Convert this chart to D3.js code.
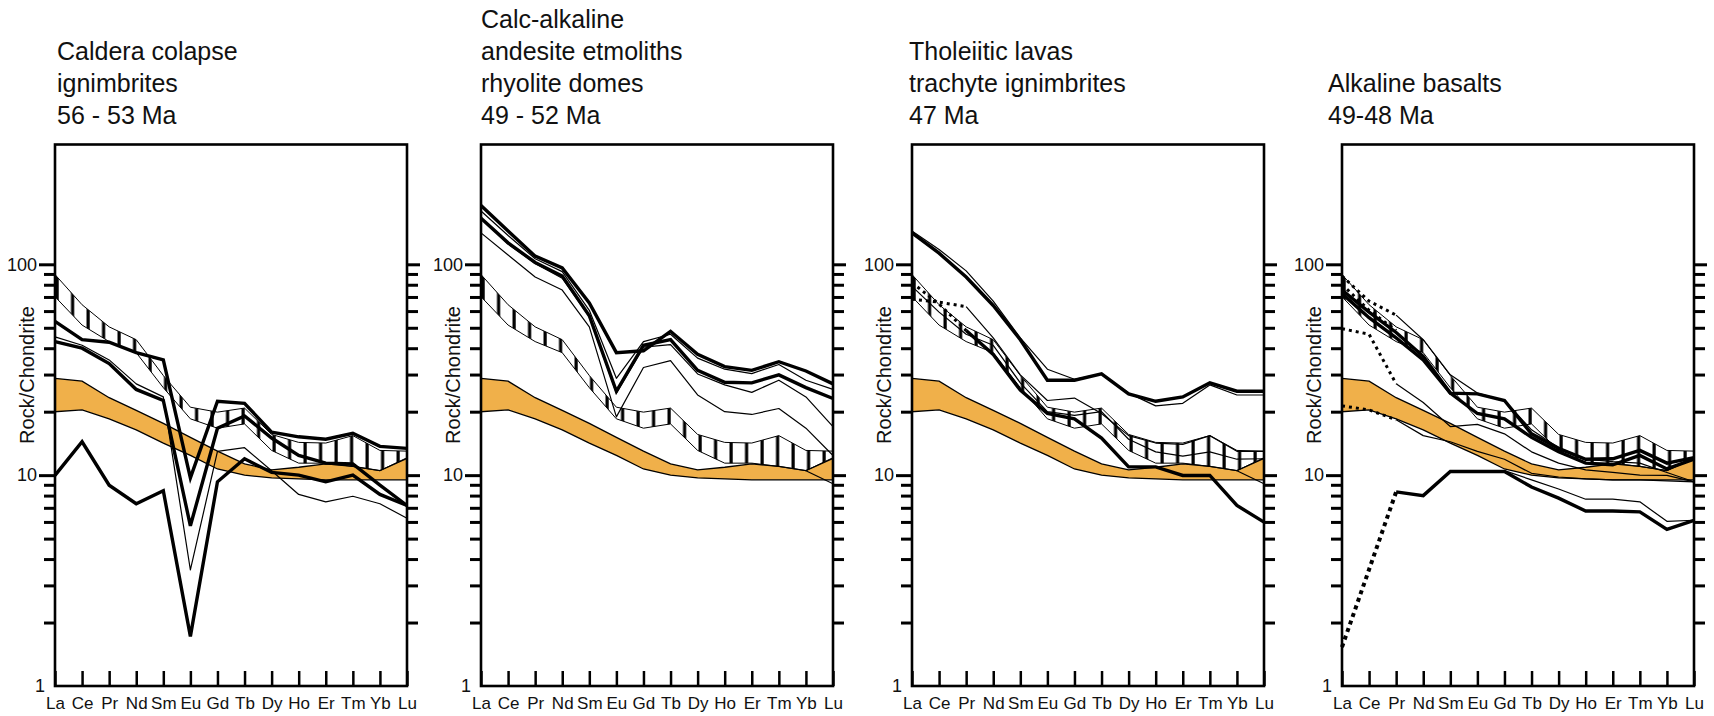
<!DOCTYPE html>
<html>
<head>
<meta charset="utf-8">
<script src="https://cdn.jsdelivr.net/npm/d3@7"></script>
<style>
body { margin: 0; background: #fff; }
svg { display: block; font-family: "Liberation Sans", Arial, Helvetica, sans-serif; }
</style>
</head>
<body>
<svg id="svg0" width="1714" height="716"></svg>
<script>
// REE on the x axis, chondrite normalised values on a log y axis
var ree = ["La", "Ce", "Pr", "Nd", "Sm", "Eu", "Gd", "Tb", "Dy", "Ho", "Er", "Tm", "Yb", "Lu"];
var majorTicks = [10, 100];
var minorTicks = [2, 3, 4, 5, 6, 7, 8, 9, 20, 30, 40, 50, 60, 70, 80, 90];

var titles = [
    ["Caldera colapse", "ignimbrites", "56 - 53 Ma"],
    ["Calc-alkaline", "andesite etmoliths", "rhyolite domes", "49 - 52 Ma"],
    ["Tholeiitic lavas", "trachyte ignimbrites", "47 Ma"],
    ["Alkaline basalts", "49-48 Ma"]
];

// orange reference field (same in every panel)
var fieldTop    = [28.8, 27.9, 23.3, 20.3, 17.6, 15.1, 13.0, 11.3, 10.6, 10.9, 11.3, 11.0, 10.5, 12.0];
var fieldBottom = [20.0, 20.4, 18.5, 16.4, 14.2, 12.4, 10.7, 10.0, 9.7, 9.6, 9.5, 9.5, 9.5, 9.5];

// hatched field (same in every panel)
var hatchTop    = [89.4, 64.3, 50.5, 43.9, 29.7, 21.0, 19.9, 20.8, 15.6, 14.3, 14.2, 15.4, 13.1, 13.0];
var hatchBottom = [70.2, 51.5, 43.0, 38.1, 26.0, 18.5, 16.7, 17.5, 13.1, 11.4, 11.4, 11.0, 10.5, 12.1];

// panel 1
var p1Thick = [
    [53.6, 43.9, 42.7, 38.1, 35.2, 9.7, 22.4, 21.9, 16.0, 15.2, 14.8, 15.8, 13.7, 13.4],
    [43.0, 40.0, 33.8, 25.5, 22.6, 5.75, 16.7, 19.1, 15.0, 12.4, 11.4, 11.3, 8.96, 7.18],
    [9.97, 14.4, 8.96, 7.32, 8.43, 1.72, 9.3, 11.96, 10.3, 10.0, 9.3, 10.0, 8.1, 7.18]
];
var p1Thin = [
    [45.3, 41.3, 35.2, 27.1, 23.5, 3.55, 12.97, 13.5, 10.5, 8.1, 7.47, 7.94, 7.32, 6.24]
];

// panel 2
var p2Thick = [
    [190, 143.7, 109.3, 96.1, 65.6, 38.1, 38.9, 48.1, 37.4, 32.7, 31.4, 34.5, 31.2, 27.1],
    [165.5, 126.4, 102, 88.0, 57.0, 25.0, 41.3, 43.9, 31.4, 27.6, 27.4, 29.9, 26.0, 23.1]
];
var p2Thin = [
    [179, 137, 106.3, 92.3, 60.5, 28.8, 43.0, 46.6, 35.9, 31.8, 30.3, 33.5, 28.2, 25.5],
    [140.9, 110.7, 87.0, 75.5, 50.5, 18.9, 32.4, 34.9, 24.0, 20.0, 19.4, 20.7, 16.7, 12.4],
    [165.5, 124.9, 100.9, 85.9, 56.5, 24.5, 40.5, 41.6, 30.2, 26.8, 24.7, 28.2, 23.5, 17.0],
    [null, null, null, null, null, null, null, null, null, null, null, null, 10.5, 9.1]
];

// panel 3
var p3Thick = [
    [140.9, 112.9, 87.0, 63.8, 43.9, 28.2, 28.2, 30.2, 24.3, 22.4, 23.5, 27.4, 25.0, 25.0],
    [null, null, 48.5, 37.4, 25.3, 19.6, 18.5, 15.0, 10.95, 10.95, 9.97, 9.97, 7.18, 5.99]
];
var p3Thin = [
    [143.7, 117.6, 93.1, 66.9, 44.8, 31.8, 28.5, 30.2, 24.5, 21.3, 21.9, 26.8, 24.0, 24.0],
    [null, null, 63.0, 44.8, 29.9, 22.6, 23.2, 19.6, 15.4, 14.2, 14.0, 15.4, 12.97, 12.97],
    [78.6, 59.3, 46.6, 41.3, 27.4, 20.0, 19.2, 20.0, 14.8, 12.9, 12.3, 12.9, 11.9, 11.96],
    [null, null, null, null, null, null, null, null, null, null, null, null, 10.5, 9.1]
];
var p3Dotted = [
    [68.3, 66.1, 63.0],
    [81.8, 64.8, 48.5]
];

// panel 4
var p4Thick = [
    [null, null, 8.33, 8.0, 10.4, 10.4, 10.4, 8.78, 7.78, 6.76, 6.76, 6.70, 5.53, 6.11],
    [75.5, 59.3, 47.5, 36.6, 24.5, 24.3, 22.6, 15.7, 13.4, 11.9, 11.96, 13.1, 11.4, 12.1],
    [72.6, 55.8, 44.8, 35.2, 24.5, 19.6, 18.5, 15.1, 12.9, 11.4, 11.2, 12.4, 10.7, 11.9]
];
var p4Thin = [
    [null, null, null, null, 10.5, 10.5, 10.5, 9.5, 8.6, 7.69, 7.69, 7.47, 6.04, 6.11],
    [null, null, 18.3, 15.4, 14.4, 12.97, 11.9, 10.2, 9.8, 9.6, 9.5, 9.5, 9.4, 9.3],
    [null, null, 27.1, 22.1, 17.0, 17.4, 15.7, 12.9, 11.4, 10.6, 10.3, 10.0, 9.97, 9.3],
    [null, null, 57.4, 43.9, 29.9, 24.5, 22.6, 16.4, 13.5, 11.9, 11.6, 11.4, 10.3, 9.3]
];
var p4Dotted = [
    [21.3, 20.4, 18.3],
    [49.5, 46.6, 27.1],
    [88.0, 66.9, 57.4],
    [80.2, 60.5, 48.5]
];
var p4DottedThick = [
    [1.53, null, 8.33]
];

var panels = [
    { left: 55,   titleX: 57,   thick: p1Thick, thin: p1Thin, dotted: [],       dottedThick: [] },
    { left: 481,  titleX: 481,  thick: p2Thick, thin: p2Thin, dotted: [],       dottedThick: [] },
    { left: 912,  titleX: 909,  thick: p3Thick, thin: p3Thin, dotted: p3Dotted, dottedThick: [] },
    { left: 1342, titleX: 1328, thick: p4Thick, thin: p4Thin, dotted: p4Dotted, dottedThick: p4DottedThick }
];

var boxTop = 144.5;
var boxW = 352;
var boxH = 541.5;

var svg = d3.select('#svg0');

var x = d3.scalePoint().domain(ree).range([0, boxW]);
var y = d3.scaleLog().domain([1, 370]).range([boxH, 0]);

var defs = svg.append('defs');
var hatch = defs.append('pattern')
    .attr('id', 'hatch')
    .attr('patternUnits', 'userSpaceOnUse')
    .attr('width', 15.5)
    .attr('height', 10);
hatch.append('rect')
    .attr('x', 0.5).attr('y', 0)
    .attr('width', 3.2).attr('height', 10)
    .attr('fill', '#000');

function pts(arr) {
    return arr.map(function (v, i) { return { el: ree[i], v: v }; })
        .filter(function (d) { return d.v != null; });
}

function band(top, bottom) {
    return top.map(function (v, i) { return { el: ree[i], hi: v, lo: bottom[i] }; });
}

var line = d3.line()
    .x(function (d) { return x(d.el); })
    .y(function (d) { return y(d.v); });

var area = d3.area()
    .x(function (d) { return x(d.el); })
    .y0(function (d) { return y(d.lo); })
    .y1(function (d) { return y(d.hi); });

panels.forEach(function (p, k) {

    var g = svg.append('g')
        .attr('transform', 'translate(' + p.left + ',' + boxTop + ')');

    // title
    var lines = titles[k];
    svg.append('g').selectAll('text')
        .data(lines)
        .enter()
        .append('text')
        .attr('x', p.titleX)
        .attr('y', function (d, i) { return 124 - (lines.length - 1 - i) * 32; })
        .attr('font-size', 25)
        .attr('fill', '#111')
        .text(function (d) { return d; });

    // orange field
    g.append('path')
        .attr('d', area(band(fieldTop, fieldBottom)))
        .attr('fill', '#f0b04a')
        .attr('stroke', '#000')
        .attr('stroke-width', 1.3);

    // hatched field
    g.append('path')
        .attr('d', area(band(hatchTop, hatchBottom)))
        .attr('fill', 'url(#hatch)')
        .attr('stroke', 'none');
    [hatchTop, hatchBottom].forEach(function (edge) {
        g.append('path')
            .attr('d', line(pts(edge)))
            .attr('fill', 'none')
            .attr('stroke', '#000')
            .attr('stroke-width', 1);
    });

    g.selectAll('path.thin')
        .data(p.thin)
        .enter()
        .append('path')
        .attr('class', 'thin')
        .attr('d', function (d) { return line(pts(d)); })
        .attr('fill', 'none')
        .attr('stroke', '#000')
        .attr('stroke-width', 1.2)
        .attr('stroke-linejoin', 'round');

    g.selectAll('path.dotted')
        .data(p.dotted)
        .enter()
        .append('path')
        .attr('class', 'dotted')
        .attr('d', function (d) { return line(pts(d)); })
        .attr('fill', 'none')
        .attr('stroke', '#000')
        .attr('stroke-width', 3)
        .attr('stroke-dasharray', '3,4');

    g.selectAll('path.dottedThick')
        .data(p.dottedThick)
        .enter()
        .append('path')
        .attr('class', 'dottedThick')
        .attr('d', function (d) { return line(pts(d)); })
        .attr('fill', 'none')
        .attr('stroke', '#000')
        .attr('stroke-width', 4)
        .attr('stroke-dasharray', '4,4');

    g.selectAll('path.thick')
        .data(p.thick)
        .enter()
        .append('path')
        .attr('class', 'thick')
        .attr('d', function (d) { return line(pts(d)); })
        .attr('fill', 'none')
        .attr('stroke', '#000')
        .attr('stroke-width', 3.4)
        .attr('stroke-linejoin', 'miter');

    // axes
    var leftMinor = g.append('g')
        .call(d3.axisLeft(y).tickValues(minorTicks).tickSize(11).tickFormat(''));
    var leftMajor = g.append('g')
        .call(d3.axisLeft(y).tickValues(majorTicks).tickSize(16).tickPadding(2).tickFormat(d3.format('d')));
    var leftOne = g.append('g')
        .call(d3.axisLeft(y).tickValues([1]).tickSize(0).tickPadding(10).tickFormat(d3.format('d')));
    var rightTicks = g.append('g')
        .attr('transform', 'translate(' + boxW + ',0)')
        .call(d3.axisRight(y).tickValues(minorTicks.concat(majorTicks)).tickSize(11).tickFormat(''));
    var bottom = g.append('g')
        .attr('transform', 'translate(0,' + boxH + ')')
        .call(d3.axisBottom(x).tickSize(-15).tickPadding(11));

    [leftMinor, leftMajor, leftOne, rightTicks, bottom].forEach(function (a) {
        a.select('.domain').remove();
        a.selectAll('.tick line').attr('stroke', '#000').attr('stroke-width', 3);
        a.selectAll('.tick text').attr('fill', '#111').attr('font-family', null);
    });
    rightTicks.selectAll('.tick line')
        .attr('x2', function (d) { return d === 10 || d === 100 ? 13 : 11; });
    leftMajor.selectAll('.tick text').attr('font-size', 18);
    leftOne.selectAll('.tick text').attr('font-size', 18);
    bottom.selectAll('.tick text').attr('font-size', 17);
    bottom.selectAll('.tick line').attr('stroke-width', 2.5);

    g.append('text')
        .attr('transform', 'translate(-28,' + (375 - boxTop) + ') rotate(-90)')
        .attr('text-anchor', 'middle')
        .attr('dy', '0.35em')
        .attr('font-size', 20)
        .attr('fill', '#111')
        .text('Rock/Chondrite');

    // frame
    g.append('rect')
        .attr('x', 0).attr('y', 0)
        .attr('width', boxW).attr('height', boxH)
        .attr('fill', 'none')
        .attr('stroke', '#000')
        .attr('stroke-width', 2.6);
});
</script>
</body>
</html>
